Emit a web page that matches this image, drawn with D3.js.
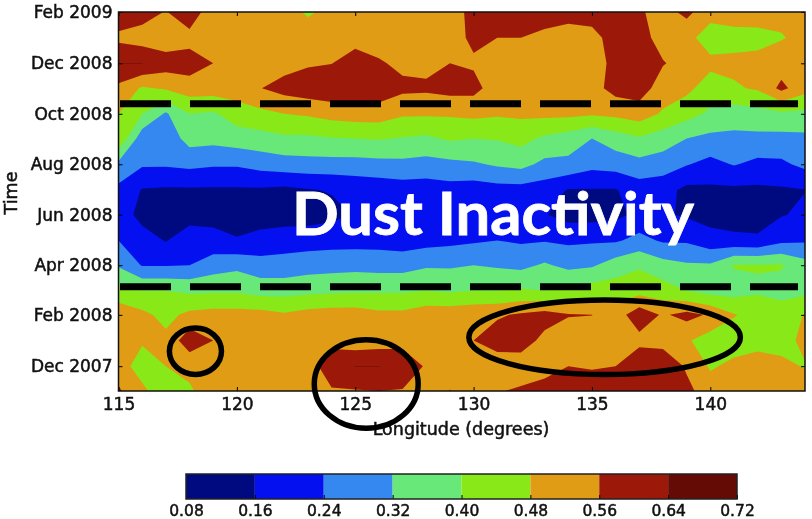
<!DOCTYPE html>
<html>
<head>
<meta charset="utf-8">
<title>Dust Inactivity</title>
<script src="https://cdnjs.cloudflare.com/ajax/libs/d3/7.8.5/d3.min.js"></script>
<style>
  html, body { margin: 0; padding: 0; background: #fff; }
  svg { display: block; filter: blur(0.4px); }
  text { font-family: 'DejaVu Sans', sans-serif; fill: #111; }
</style>
</head>
<body>
<div id="chart"></div>
<script>
const longitudes = d3.range(115, 145);
const monthNames = ['2009-02', '2009-01', '2008-12', '2008-11', '2008-10', '2008-09', '2008-08', '2008-07',
  '2008-06', '2008-05', '2008-04', '2008-03', '2008-02', '2008-01', '2007-12', '2007-11'];
const timeTicks = ['2009-02', '2008-12', '2008-10', '2008-08', '2008-06', '2008-04', '2008-02', '2007-12'];
const lonTicks = [115, 120, 125, 130, 135, 140];
const levels = [0.08, 0.16, 0.24, 0.32, 0.40, 0.48, 0.56, 0.64, 0.72];
const bandColors = ['#000a80', '#0510f0', '#3488f0', '#68e878', '#88e818', '#e09c14', '#9c1808', '#650b05'];

// one line per longitude, values from Feb 2009 (top) down to Nov 2007
const valuesByLon = [
  [.62, .54, .641, .54, .48, .47, .30, .22, .21, .24, .31, .43, .53, .55, .52, .57],
  [.60, .52, .641, .47, .40, .27, .25, .155, .13, .20, .235, .40, .50, .49, .44, .50],
  [.555, .51, .60, .49, .31, .27, .25, .15, .12, .155, .235, .40, .455, .50, .48, .42],
  [.62, .53, .60, .52, .40, .35, .26, .15, .12, .215, .24, .385, .50, .61, .50, .47],
  [.50, .52, .56, .52, .39, .345, .25, .15, .13, .19, .28, .39, .51, .56, .52, .52],
  [.50, .51, .52, .52, .44, .36, .25, .15, .13, .165, .30, .39, .51, .52, .52, .53],
  [.50, .50, .51, .558, .46, .37, .27, .15, .12, .19, .27, .37, .51, .53, .52, .53],
  [.51, .51, .53, .59, .48, .385, .285, .14, .12, .205, .27, .37, .49, .53, .52, .53],
  [.47, .52, .55, .61, .49, .385, .29, .155, .125, .205, .285, .38, .51, .53, .51, .52],
  [.50, .558, .558, .62, .51, .395, .29, .165, .14, .21, .29, .385, .52, .53, .62, .55],
  [.51, .53, .60, .62, .52, .40, .29, .18, .165, .21, .295, .39, .52, .51, .641, .555],
  [.51, .52, .57, .61, .52, .405, .295, .19, .17, .21, .29, .39, .50, .52, .641, .56],
  [.51, .51, .54, .58, .49, .395, .30, .20, .17, .20, .29, .39, .50, .53, .62, .555],
  [.52, .52, .535, .575, .49, .385, .29, .20, .18, .21, .31, .40, .53, .53, .55, .50],
  [.53, .53, .56, .59, .49, .41, .30, .21, .18, .22, .31, .39, .53, .52, .53, .562],
  [.58, .575, .55, .585, .50, .40, .31, .20, .18, .23, .32, .40, .54, .56, .51, .53],
  [.60, .56, .52, .52, .49, .405, .33, .21, .18, .24, .31, .40, .55, .60, .51, .555],
  [.60, .56, .52, .52, .495, .425, .345, .21, .17, .23, .30, .41, .57, .595, .52, .57],
  [.60, .54, .52, .52, .50, .385, .30, .20, .165, .235, .33, .40, .59, .54, .52, .60],
  [.59, .525, .51, .52, .50, .36, .30, .155, .13, .225, .30, .415, .565, .51, .56, .62],
  [.60, .53, .52, .53, .49, .32, .265, .155, .13, .23, .31, .44, .561, .52, .55, .62],
  [.60, .60, .585, .59, .50, .36, .275, .155, .14, .23, .36, .44, .52, .51, .56, .62],
  [.57, .59, .61, .60, .52, .39, .295, .20, .18, .265, .39, .45, .61, .535, .63, .62],
  [.53, .53, .565, .52, .47, .36, .28, .19, .17, .23, .35, .435, .55, .53, .62, .60],
  [.58, .505, .53, .50, .43, .32, .245, .14, .15, .23, .33, .40, .585, .49, .55, .58],
  [.51, .44, .50, .44, .385, .30, .215, .145, .13, .19, .33, .37, .55, .44, .47, .52],
  [.52, .45, .50, .47, .36, .30, .245, .145, .12, .18, .405, .37, .485, .44, .50, .52],
  [.51, .46, .50, .49, .37, .30, .22, .145, .12, .175, .405, .39, .45, .45, .52, .53],
  [.50, .475, .52, .58, .385, .295, .225, .15, .155, .22, .405, .38, .43, .45, .50, .53],
  [.50, .50, .52, .51, .38, .30, .26, .158, .175, .23, .35, .38, .485, .50, .475, .52]
];

// dashed marks and hand drawn rings, in data units
const dashedDates = ['2008-10-13', '2008-03-06'];
const ringLons = [[117.15, 119.35], [123.27, 127.66], [129.8, 141.27]];
const ringDates = [['2007-11-21', '2008-01-16'], ['2007-09-17', '2008-01-02'], ['2007-11-21', '2008-02-19']];

const width = 812, height = 519;
const plot = { left: 118.5, right: 805, top: 12, bottom: 391 };
const bar = { left: 186, right: 737, top: 474, bottom: 499 };

const parseMonth = d3.timeParse('%Y-%m');
const parseDay = d3.timeParse('%Y-%m-%d');

const svg = d3.select('#chart').append('svg').attr('width', width).attr('height', height);

const x = d3.scaleLinear().domain([115, 144]).range([plot.left, plot.right]);
const y = d3.scaleTime()
  .domain([parseMonth('2007-11'), parseMonth('2009-02')])
  .range([plot.bottom, plot.top]);
// grid row number to pixel, months are not all the same length
const rowY = d3.scaleLinear()
  .domain(monthNames.map((d, i) => i))
  .range(monthNames.map(d => y(parseMonth(d))));

const grid = [];
monthNames.forEach((m, j) => longitudes.forEach((lon, i) => grid.push(valuesByLon[i][j])));

const contours = d3.contours()
  .size([longitudes.length, monthNames.length])
  .thresholds(levels.slice(0, -1))(grid);

// d3.contours puts grid values on cell centres, hence the half
const projection = d3.geoTransform({
  point(px, py) {
    this.stream.point(x(longitudes[0] + px - 0.5), rowY(py - 0.5));
  }
});
const path = d3.geoPath(projection);

svg.append('clipPath').attr('id', 'plot-clip').append('rect')
  .attr('x', plot.left).attr('y', plot.top)
  .attr('width', plot.right - plot.left).attr('height', plot.bottom - plot.top);

svg.append('g')
  .attr('clip-path', 'url(#plot-clip)')
  .selectAll('path')
  .data(contours)
  .join('path')
  .attr('d', path)
  .attr('fill', (d, i) => bandColors[i]);

// axes, small inward ticks on all four sides
const styleAxis = (g, size) => {
  g.select('.domain').remove();
  g.selectAll('line').attr('stroke', '#000').attr('stroke-width', 1);
  g.selectAll('text').attr('font-size', size).style('stroke', '#111').style('stroke-width', 0.5);
};
const monthTicks = timeTicks.map(parseMonth);

svg.append('g').attr('transform', `translate(0,${plot.bottom})`)
  .call(d3.axisBottom(x).tickValues(lonTicks).tickSizeInner(-4).tickPadding(7).tickSizeOuter(0).tickFormat(d3.format('d')))
  .call(styleAxis, 17);
svg.append('g').attr('transform', `translate(0,${plot.top})`)
  .call(d3.axisTop(x).tickValues(lonTicks).tickSizeInner(-4).tickSizeOuter(0).tickFormat(''))
  .call(styleAxis, 17);
svg.append('g').attr('transform', `translate(${plot.left},0)`)
  .call(d3.axisLeft(y).tickValues(monthTicks).tickSizeInner(-4).tickPadding(6).tickSizeOuter(0).tickFormat(d3.timeFormat('%b %Y')))
  .call(styleAxis, 17);
svg.append('g').attr('transform', `translate(${plot.right},0)`)
  .call(d3.axisRight(y).tickValues(monthTicks).tickSizeInner(-4).tickSizeOuter(0).tickFormat(''))
  .call(styleAxis, 17);

svg.append('rect')
  .attr('x', plot.left).attr('y', plot.top)
  .attr('width', plot.right - plot.left).attr('height', plot.bottom - plot.top)
  .attr('fill', 'none').attr('stroke', '#111').attr('stroke-width', 1.5);

svg.append('text')
  .attr('x', 461).attr('y', 435)
  .attr('text-anchor', 'middle').attr('font-size', 17.5)
  .style('stroke', '#111').style('stroke-width', 0.5)
  .text('Longitude (degrees)');

svg.append('text')
  .attr('transform', 'translate(17,193) rotate(-90)')
  .attr('text-anchor', 'middle').attr('font-size', 17.5)
  .style('stroke', '#111').style('stroke-width', 0.5)
  .text('Time');

// annotations on top of the plot
svg.selectAll('.dash-line')
  .data(dashedDates)
  .join('line')
  .attr('class', 'dash-line')
  .attr('x1', 120).attr('x2', 798)
  .attr('y1', d => y(parseDay(d))).attr('y2', d => y(parseDay(d)))
  .attr('stroke', '#000').attr('stroke-width', 7).attr('stroke-dasharray', '51 19');

svg.selectAll('.ring')
  .data(ringLons)
  .join('ellipse')
  .attr('class', 'ring')
  .attr('cx', d => (x(d[0]) + x(d[1])) / 2)
  .attr('rx', d => (x(d[1]) - x(d[0])) / 2)
  .attr('cy', (d, i) => (y(parseDay(ringDates[i][0])) + y(parseDay(ringDates[i][1]))) / 2)
  .attr('ry', (d, i) => (y(parseDay(ringDates[i][0])) - y(parseDay(ringDates[i][1]))) / 2)
  .attr('fill', 'none').attr('stroke', '#000').attr('stroke-width', 5.5);

svg.append('text')
  .attr('x', 292).attr('y', 235)
  .attr('font-size', 60).attr('font-weight', 700)
  .attr('textLength', 402).attr('lengthAdjust', 'spacingAndGlyphs')
  .style('font-family', "Lato, sans-serif")
  .style('fill', '#fff').style('stroke', '#fff').style('stroke-width', 0.8)
  .text('Dust Inactivity');

// colorbar
const barX = d3.scaleLinear().domain([levels[0], levels[levels.length - 1]]).range([bar.left, bar.right]);

svg.append('g')
  .selectAll('rect')
  .data(bandColors)
  .join('rect')
  .attr('x', (d, i) => barX(levels[i]))
  .attr('width', (d, i) => barX(levels[i + 1]) - barX(levels[i]))
  .attr('y', bar.top).attr('height', bar.bottom - bar.top)
  .attr('fill', d => d);

svg.append('g').attr('transform', `translate(0,${bar.bottom})`)
  .call(d3.axisBottom(barX).tickValues(levels).tickSizeInner(-4).tickPadding(6).tickSizeOuter(0).tickFormat(d3.format('.2f')))
  .call(styleAxis, 15.5);

svg.append('rect')
  .attr('x', bar.left).attr('y', bar.top)
  .attr('width', bar.right - bar.left).attr('height', bar.bottom - bar.top)
  .attr('fill', 'none').attr('stroke', '#222').attr('stroke-width', 1.5);
</script>
</body>
</html>
